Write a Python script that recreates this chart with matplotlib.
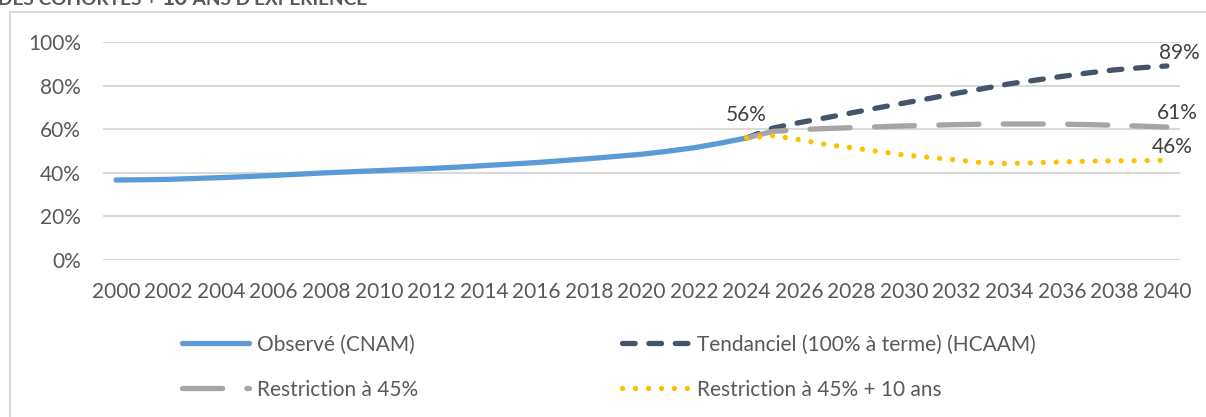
import matplotlib
matplotlib.use("Agg")
import matplotlib.pyplot as plt
from matplotlib.patches import Rectangle

# ---------------- data ----------------
years_obs = list(range(2000, 2025))
observed = [36.7, 36.8, 37.0, 37.4, 37.8, 38.3, 38.8, 39.4, 40.0, 40.5,
            41.0, 41.5, 42.0, 42.6, 43.3, 44.0, 44.7, 45.6, 46.5, 47.5,
            48.5, 49.9, 51.5, 53.6, 56.0]
years_proj = list(range(2024, 2041))
tendanciel = [56.0, 60.5, 63.0, 65.2, 67.5, 69.8, 72.0, 74.2, 76.5, 78.6,
              80.8, 82.5, 84.2, 85.8, 87.2, 88.2, 89.0]
restr45 = [56.0, 59.0, 59.8, 60.3, 60.7, 61.1, 61.5, 61.8, 62.1, 62.3,
           62.4, 62.4, 62.3, 62.1, 61.8, 61.4, 61.0]
restr45_10 = [56.0, 57.0, 55.2, 53.0, 51.5, 49.8, 48.2, 47.0, 45.9, 44.6,
              44.2, 44.6, 45.0, 45.3, 45.5, 45.6, 45.8]
labels = ["Observé (CNAM)", "Tendanciel (100% à terme) (HCAAM)",
          "Restriction à 45%", "Restriction à 45% + 10 ans"]
title_parts = ["DES COHORTES + ", "10", " ANS D'EXPÉRIENCE"]
yticks = [0, 20, 40, 60, 80, 100]
xticks = list(range(2000, 2041, 2))

# ---------------- style ----------------
plt.rcParams['font.family'] = ['Lato', 'DejaVu Sans']
FS = 15
TICK_C = '#595959'
LAB_C = '#404040'
GRID_C = '#D9D9D9'
C_OBS = '#5B9BD5'
C_TEND = '#44546A'
C_R45 = '#A5A5A5'
C_R4510 = '#FFC000'

W, H = 1206, 417
fig = plt.figure(figsize=(W / 100, H / 100), dpi=100)
ax = fig.add_axes([103 / W, 1 - 260 / H, (1180 - 103) / W, (260 - 42) / H])

lw = 3.8
ax.plot(years_obs, observed, color=C_OBS, lw=lw, solid_capstyle='round',
        solid_joinstyle='round', label=labels[0], zorder=3)
ax.plot(years_proj, tendanciel, color=C_TEND, lw=lw, dashes=(2.4, 2.6),
        dash_capstyle='round', label=labels[1], zorder=4)
ax.plot(years_proj, restr45, color=C_R45, lw=lw, dashes=(7.6, 4.6),
        dash_capstyle='round', label=labels[2], zorder=5)
ax.plot(years_proj, restr45_10, color=C_R4510, lw=lw, dashes=(0.01, 2.45),
        dash_capstyle='round', label=labels[3], zorder=6)

ax.set_xlim(1999.5, 2040.5)
ax.set_ylim(0, 100)
ax.set_yticks(yticks)
ax.set_yticklabels([f"{v}%" for v in yticks])
ax.set_xticks(xticks)
ax.set_xticklabels([str(v) for v in xticks])
ax.tick_params(axis='both', length=0, labelsize=FS, labelcolor=TICK_C)
ax.tick_params(axis='y', pad=16)
ax.tick_params(axis='x', pad=16)
ax.grid(axis='y', color=GRID_C, lw=1.5)
ax.set_axisbelow(True)
for s in ax.spines.values():
    s.set_visible(False)

# data labels
label_pts = [(years_obs[-1], observed[-1], (0, 23)),
             (years_proj[-1], tendanciel[-1], (13, 13)),
             (years_proj[-1], restr45[-1], (10, 14)),
             (years_proj[-1], restr45_10[-1], (5, 13))]
for x, y, off in label_pts:
    ax.annotate(f"{y:.0f}%", (x, y), xytext=off, textcoords='offset pixels',
                ha='center', va='center', fontsize=FS, color=LAB_C,
                annotation_clip=False, zorder=7)

# legends (two columns)
h = ax.get_lines()
common = dict(frameon=False, fontsize=FS, handlelength=3.2, handletextpad=0.4,
              labelspacing=1.2, borderpad=0, borderaxespad=0, loc='center left',
              bbox_transform=fig.transFigure, labelcolor=TICK_C)
fig.legend([h[0], h[2]], [labels[0], labels[2]],
           bbox_to_anchor=(182 / W, 1 - 367 / H), **common)
fig.legend([h[1], h[3]], [labels[1], labels[3]],
           bbox_to_anchor=(622 / W, 1 - 367 / H), **common)

# chart frame
fig.add_artist(Rectangle((10 / W, -0.2), 2, 1 - 12 / H + 0.2, transform=fig.transFigure,
                         fill=False, ec=GRID_C, lw=1.5))

# cut-off title at top (parts chained horizontally)
ty = 1 - 5 / H
sizes = [13.7, 16.5, 13.7]
renderer = fig.canvas.get_renderer()
xpos = -2 / W
for part, sz in zip(title_parts, sizes):
    t = fig.text(xpos, ty, part, fontsize=sz, fontweight='bold',
                 color=TICK_C, va='baseline', ha='left')
    bb = t.get_window_extent(renderer=renderer)
    xpos = bb.x1 / W

fig.savefig("out.png", dpi=100)
